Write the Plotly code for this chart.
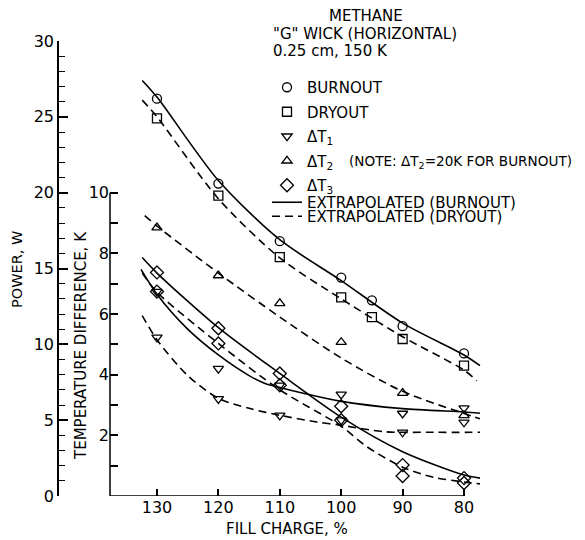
import plotly.graph_objects as go

# ---------------- data ----------------
fill = [130, 120, 110, 100, 95, 90, 80]
burnout_power = [26.2, 20.6, 16.8, 14.4, 12.9, 11.2, 9.4]
dryout_power = [24.9, 19.8, 15.75, 13.1, 11.8, 10.35, 8.6]

fill_t = [130, 120, 110, 100, 90, 80]
dT1_burnout = [6.74, 4.2, 3.65, 3.35, 2.72, 2.9]
dT1_dryout = [5.23, 3.2, 2.66, 2.5, 2.1, 2.43]
dT2_dryout = [8.85, 7.27, 6.35, 5.07, 3.39, 2.66]
dT3_burnout = [7.37, 5.53, 4.04, 2.96, 1.02, 0.59]
dT3_dryout = [6.74, 5.03, 3.65, 2.5, 0.66, 0.43]

# extrapolated curves
cx_bp = [132.4, 130, 120, 110, 100, 90, 80, 77.4]
cy_bp = [27.4, 26.3, 20.8, 16.9, 14.2, 11.4, 9.3, 8.6]
cx_dp = [132.4, 130, 120, 110, 100, 90, 80, 77.9]
cy_dp = [26.1, 25.0, 19.6, 15.7, 13.0, 10.5, 8.3, 7.6]
cx_t2 = [132.0, 130, 120, 110, 100, 90, 80, 77.4]
cy_t2 = [9.24, 8.9, 7.35, 5.9, 4.55, 3.45, 2.72, 2.55]
cx_t1b = [132.6, 130, 125, 120, 115, 112.5, 110, 106, 100, 90, 80, 77.4]
cy_t1b = [7.47, 6.65, 5.5, 4.65, 3.97, 3.72, 3.58, 3.38, 3.12, 2.88, 2.77, 2.73]
cx_t1d = [132.4, 130, 125, 120, 115, 110, 104, 100, 93, 85, 77.4]
cy_t1d = [5.95, 5.15, 3.97, 3.22, 2.89, 2.66, 2.44, 2.33, 2.12, 2.1, 2.1]
cx_t3b = [132.4, 130, 120, 110, 100, 90, 80, 77.4]
cy_t3b = [7.86, 7.35, 5.55, 4.04, 2.6, 1.46, 0.69, 0.59]
cx_t3d = [132.4, 130, 120, 110, 100, 96, 90, 85, 80, 77.4]
cy_t3d = [7.35, 6.72, 5.03, 3.5, 2.3, 1.65, 0.95, 0.62, 0.46, 0.4]

fill_ticks = [130, 120, 110, 100, 90, 80]
power_ticks = [0, 5, 10, 15, 20, 25, 30]
temp_ticks = [1, 2, 3, 4, 5, 6, 7, 8, 9, 10]
temp_labels = ["", "2", "", "4", "", "6", "", "8", "", "10"]
x_range = [137.65, 77.07]
power_range = [0, 30]
temp_range = [0, 15]
temp_top = 10

# ---------------- figure ----------------
FONT = "DejaVu Sans"
K = "black"
fig = go.Figure()

def mk(symbol, size=9):
    return dict(symbol=symbol, size=size, color=K, line=dict(color=K, width=1.3))

solid = dict(color=K, width=1.6, shape="spline", smoothing=0.8)
dashed = dict(color=K, width=1.6, shape="spline", smoothing=0.8, dash="8px,5px")

# curves
fig.add_trace(go.Scatter(x=cx_bp, y=cy_bp, mode="lines", line=solid, yaxis="y",
                         name="EXTRAPOLATED (BURNOUT)", legend="legend2"))
fig.add_trace(go.Scatter(x=cx_dp, y=cy_dp, mode="lines", line=dashed, yaxis="y",
                         name="EXTRAPOLATED (DRYOUT)", legend="legend3"))
for cx, cy, ln in [(cx_t2, cy_t2, dashed), (cx_t1b, cy_t1b, solid), (cx_t1d, cy_t1d, dashed),
                   (cx_t3b, cy_t3b, solid), (cx_t3d, cy_t3d, dashed)]:
    fig.add_trace(go.Scatter(x=cx, y=cy, mode="lines", line=ln, yaxis="y2", showlegend=False))

# markers
fig.add_trace(go.Scatter(x=fill, y=burnout_power, mode="markers", marker=mk("circle-open"),
                         yaxis="y", name="BURNOUT", legendgroup="g1"))
fig.add_trace(go.Scatter(x=fill, y=dryout_power, mode="markers", marker=mk("square-open"),
                         yaxis="y", name="DRYOUT", legendgroup="g2"))
fig.add_trace(go.Scatter(x=fill_t, y=dT1_burnout, mode="markers", marker=mk("triangle-down-open"),
                         yaxis="y2", name="ΔT<sub>1</sub>", legendgroup="g3"))
fig.add_trace(go.Scatter(x=fill_t, y=dT1_dryout, mode="markers", marker=mk("triangle-down-open"),
                         yaxis="y2", showlegend=False, legendgroup="g3"))
fig.add_trace(go.Scatter(x=fill_t, y=dT2_dryout, mode="markers", marker=mk("triangle-up-open"),
                         yaxis="y2", name="ΔT<sub>2</sub>", legendgroup="g4"))
fig.add_trace(go.Scatter(x=fill_t, y=dT3_burnout, mode="markers", marker=mk("diamond-open", 10),
                         yaxis="y2", name="ΔT<sub>3</sub>", legendgroup="g5"))
fig.add_trace(go.Scatter(x=fill_t, y=dT3_dryout, mode="markers", marker=mk("diamond-open", 10),
                         yaxis="y2", showlegend=False, legendgroup="g5"))

# page body adds an 8 px offset; figure sized so that it fits in the window
W, H = 577, 532
L, R, T, B = 50, 103, 33, 44
PW = W - L - R
PH = H - T - B
OFF = 8

def px(xr):  # reference pixel x -> paper fraction
    return (xr - OFF - L) / PW

def py(yr):  # reference pixel y -> paper fraction
    return (H - B - (yr - OFF)) / PH

axis_common = dict(showgrid=False, zeroline=False, color=K, linecolor=K, linewidth=1.5,
                   tickcolor=K, tickwidth=1.5, tickfont=dict(size=16, family=FONT, color=K))

leg = dict(xanchor="left", yanchor="top", bgcolor="rgba(0,0,0,0)",
           font=dict(size=15, family=FONT, color=K), itemwidth=30)

fig.update_layout(
    width=W, height=H,
    margin=dict(l=L, r=R, t=T, b=B, autoexpand=False),
    plot_bgcolor="white", paper_bgcolor="white",
    font=dict(family=FONT, size=15, color=K),
    xaxis=dict(domain=[px(110), 1], range=x_range, anchor="y", tickvals=fill_ticks,
               ticks="inside", ticklen=7, showline=False, **axis_common),
    yaxis=dict(anchor="free", position=0, range=power_range, tickvals=power_ticks,
               ticks="inside", ticklen=9, showline=True,
               minor=dict(dtick=1, ticks="inside", ticklen=6, tickcolor=K, tickwidth=1.3),
               **axis_common),
    yaxis2=dict(overlaying="y", anchor="x", side="left", range=temp_range, tickvals=temp_ticks,
                ticktext=temp_labels, ticks="inside", ticklen=8, showline=False, **axis_common),
    legend=dict(x=px(267), y=py(71), tracegroupgap=2, **leg),
    legend2=dict(x=px(267), y=py(186), **leg),
    legend3=dict(x=px(267), y=py(200), **leg),
    showlegend=True,
)

# x axis line ends at the 80 % tick; temperature axis line ends at 10 K
fig.add_shape(type="line", xref="x", yref="y", x0=x_range[0], x1=fill_ticks[-1], y0=0, y1=0,
              line=dict(color=K, width=1.5))
fig.add_shape(type="line", xref="x domain", yref="y2", x0=0, x1=0, y0=0, y1=temp_top,
              line=dict(color=K, width=1.5))

ann = [
    dict(text="POWER, W", x=px(17), y=py(270), textangle=-90, size=14.5),
    dict(text="TEMPERATURE DIFFERENCE, K", x=px(81), y=py(346), textangle=-90),
    dict(text="FILL CHARGE, %", x=px(287), y=py(529)),
    dict(text="METHANE", x=px(366), y=py(16)),
    dict(text='"G" WICK (HORIZONTAL)', x=px(271), y=py(34), xanchor="left"),
    dict(text="0.25 cm, 150 K", x=px(271), y=py(51), xanchor="left"),
    dict(text="(NOTE: ΔT<sub>2</sub>=20K FOR BURNOUT)", x=px(347), y=py(162), xanchor="left",
         size=13.6),
]
for a in ann:
    a.setdefault("xanchor", "center")
    size = a.pop("size", 15)
    fig.add_annotation(xref="paper", yref="paper", showarrow=False, yanchor="middle",
                       font=dict(size=size, family=FONT, color=K), **a)

fig.write_html("out.html")
